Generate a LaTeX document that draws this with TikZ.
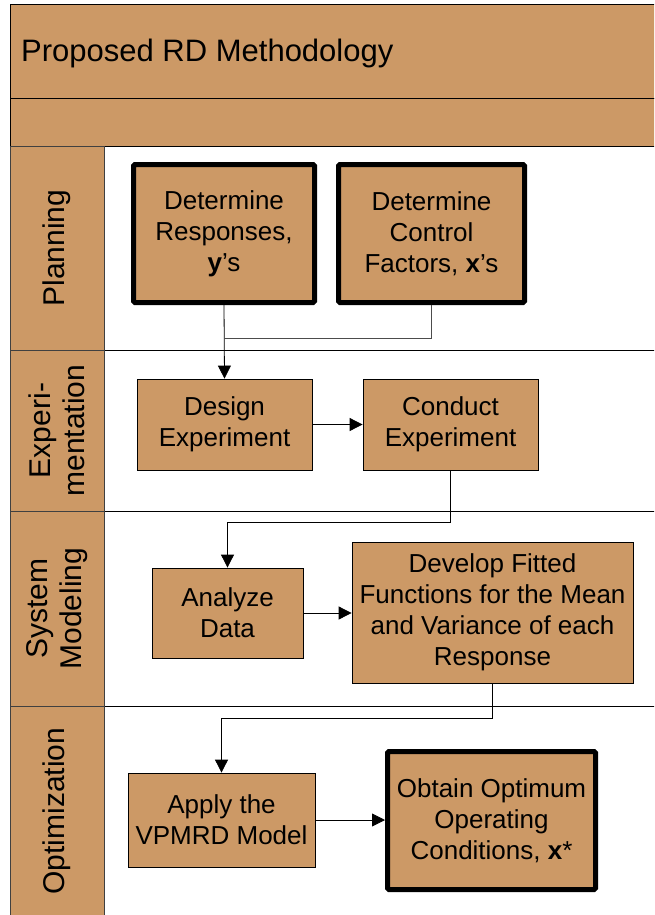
\documentclass[tikz,border=0pt]{standalone}
\usepackage{fontspec}
\setmainfont{Liberation Sans}
\usepackage{xcolor}
\usepackage{tikz}
\usetikzlibrary{calc}
\usetikzlibrary{positioning}
\usetikzlibrary{arrows.meta}
\definecolor{tanfill}{HTML}{CC9966}
\tikzset{>={Triangle[length=13pt,width=13pt]}}
\tikzset{
	stepbox/.style={draw=black, fill=tanfill, line width=0.8pt, align=center,
		inner sep=0pt, font=\fontsize{26}{31}\selectfont},
	keybox/.style={stepbox, line width=5pt, rounded corners=1.5pt},
	flow/.style={->, line width=0.8pt, draw=black},
	lane/.style={fill=tanfill, draw=black!75, line width=1pt},
	lanelabel/.style={rotate=90, align=center, font=\fontsize{30}{34}\selectfont}
}

\begin{document}
\begin{tikzpicture}[x=1pt, y=-1pt]
	
	\pgfmathsetmacro{\W}{654}
	\pgfmathsetmacro{\H}{915}
	\pgfmathsetmacro{\colL}{10}
	\pgfmathsetmacro{\colR}{104}
	
	\useasboundingbox (0,0) rectangle (\W,\H);
	\clip (0,0) rectangle (\W,\H);
	
	%% Header
	\filldraw[fill=tanfill, draw=black, line width=1pt] 
	(\colL,5) rectangle (\W+10,99);
	\filldraw[fill=tanfill, draw=black, line width=1pt] 
	(\colL,99) rectangle (\W+10,146);
	\node[anchor=base west, inner sep=0pt, font=\fontsize{31}{36}\selectfont]
	(title) at (21,62) {Proposed RD Methodology};
	
	% Lanes
	\begin{scope}[]
	\foreach \t/\b in {146/350,350/511,511/706,706/930}
	{
	\filldraw[lane] (\colL,\t) rectangle (\colR,\b);
	\draw[line width=0.9pt, draw=black] (\colR,\b) -- (\W+10,\b);
	}
	\end{scope}
	
	\node[lanelabel] (lplan) at (57,248) {Planning};
	\node[lanelabel] (lexp) at (57,430.5) {Experi-\\mentation};
	\node[lanelabel] (lmod) at (57,608.5) {System\\Modeling};
	\node[lanelabel] (lopt) at (57,811) {Optimization};
	
	%% Steps
	\node[keybox, minimum width=181pt, minimum height=138pt] 
	(resp) at (224,233.5) {Determine\\Responses,\\\textbf{y}’s};
	\node[keybox, minimum width=186pt, minimum height=138pt] 
	(ctrl) at (431.5,233.5) {Determine\\Control\\Factors, \textbf{x}’s};
	
	\node[stepbox, minimum width=175pt, minimum height=91pt] 
	(design) at (224.5,424.5) {Design\\Experiment};
	\node[stepbox, minimum width=175pt, minimum height=91pt] 
	(conduct) at (450.5,424.5) {Conduct\\Experiment};
	
	\node[stepbox, minimum width=151pt, minimum height=90pt] 
	(analyze) at (227.5,613) {Analyze\\Data};
	\node[stepbox, minimum width=281pt, minimum height=141pt] 
	(develop) at (492.5,612.5) {Develop Fitted\\Functions for the Mean\\and Variance of each\\Response};
	
	\node[stepbox, minimum width=187pt, minimum height=94pt] 
	(apply) at (221.5,820) {Apply the\\VPMRD Model};
	\node[keybox, minimum width=208pt, minimum height=138pt] 
	(obtain) at (491.5,820.5) {Obtain Optimum\\Operating\\Conditions, \textbf{x}*};
	
	%% Connectors
	\coordinate (j1) at (resp.south |- 0,338);
	\coordinate (j2) at (analyze.north |- 0,522);
	\coordinate (j3) at (apply.north |- 0,718);
	
	\draw[flow] (resp.south) -- (design.north);
	\draw[line width=0.8pt, draw=black!70] (ctrl.south) |- (j1);
	\draw[flow] (design.east) -- (conduct.west);
	\draw[flow] (conduct.south) |- (j2) -- (analyze.north);
	\draw[flow] (analyze.east) -- (develop.west |- analyze.east);
	\draw[flow] (develop.south) |- (j3) -- (apply.north);
	\draw[flow] (apply.east) -- (obtain.west |- apply.east);
	
\end{tikzpicture}
\end{document}
